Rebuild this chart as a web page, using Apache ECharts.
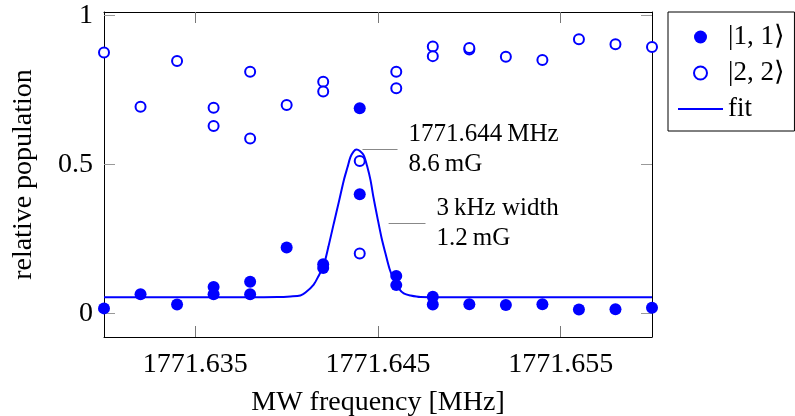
<!DOCTYPE html>
<html>
<head>
<meta charset="utf-8">
<script src="https://cdn.jsdelivr.net/npm/echarts@6/dist/echarts.min.js"></script>
<style>
  html, body { margin: 0; padding: 0; background: #fff; }
  #chart { width: 795px; height: 416px; }
</style>
</head>
<body>
<div id="chart"></div>
<script>
// measured points, |1,1> state (filled)
const freq11 = [1771.630, 1771.632, 1771.634, 1771.636, 1771.636, 1771.638, 1771.638, 1771.640,
  1771.642, 1771.642, 1771.644, 1771.644, 1771.646, 1771.646, 1771.648, 1771.648,
  1771.650, 1771.652, 1771.654, 1771.656, 1771.658, 1771.660];
const pop11 = [0.017, 0.064, 0.030, 0.089, 0.064, 0.106, 0.064, 0.221,
  0.165, 0.152, 0.688, 0.400, 0.126, 0.095, 0.056, 0.030,
  0.031, 0.028, 0.031, 0.013, 0.014, 0.019];

// measured points, |2,2> state (open)
const freq22 = [1771.630, 1771.632, 1771.634, 1771.636, 1771.636, 1771.638, 1771.638, 1771.640,
  1771.642, 1771.642, 1771.644, 1771.644, 1771.646, 1771.646, 1771.648, 1771.648,
  1771.650, 1771.650, 1771.652, 1771.654, 1771.656, 1771.658, 1771.660];
const pop22 = [0.875, 0.693, 0.847, 0.690, 0.629, 0.811, 0.587, 0.699,
  0.777, 0.744, 0.511, 0.201, 0.811, 0.755, 0.895, 0.863,
  0.885, 0.890, 0.861, 0.850, 0.920, 0.903, 0.894];

// fit curve
const fitFreq = [1771.6300, 1771.6380, 1771.6395, 1771.64021, 1771.64075, 1771.64103, 1771.64148,
  1771.64174, 1771.64203, 1771.64229, 1771.64258, 1771.64286, 1771.64313, 1771.64333, 1771.64349,
  1771.64366, 1771.64382, 1771.64401, 1771.64422, 1771.64440, 1771.64459, 1771.64475, 1771.64496,
  1771.64519, 1771.64541, 1771.64563, 1771.64587, 1771.64612, 1771.64641, 1771.64678, 1771.64733,
  1771.6500, 1771.6600];
const fitPop = [0.054, 0.054, 0.055, 0.057, 0.060, 0.070, 0.097,
  0.125, 0.162, 0.225, 0.302, 0.375, 0.447, 0.490, 0.524,
  0.543, 0.550, 0.545, 0.530, 0.495, 0.447, 0.390, 0.324,
  0.255, 0.201, 0.150, 0.112, 0.085, 0.067, 0.060, 0.055,
  0.054, 0.054];

const xTicks = [1771.635, 1771.645, 1771.655];
const yTicks = [0, 0.5, 1];

// annotations: [x start, x end, y, text]
const centerNote = [1771.64415, 1771.64607, 0.550, '1771.644\u2009MHz\n8.6\u2009mG'];
const widthNote = [1771.64558, 1771.64760, 0.302, '3\u2009kHz width\n1.2\u2009mG'];

const FONT = '"Liberation Serif", "DejaVu Serif", serif';
const BLUE = '#0000ff';

const zip = (xs, ys) => xs.map((x, i) => [x, ys[i]]);

const noteLine = (n) => [
  { coord: [n[0], n[2]], label: { formatter: n[3] } },
  { coord: [n[1], n[2]] }
];

const frameX = (extra) => Object.assign({
  type: 'value',
  min: 1771.630,
  max: 1771.660,
  axisLine: { onZero: false, lineStyle: { color: '#000', width: 1 } },
  axisTick: { inside: true, length: 11, customValues: xTicks, lineStyle: { color: '#777' } },
  splitLine: { show: false }
}, extra);

const frameY = (extra) => Object.assign({
  type: 'value',
  min: -0.079,
  max: 1.011,
  axisLine: { show: true, onZero: false, lineStyle: { color: '#000', width: 1 } },
  axisTick: { show: true, inside: true, length: 11, customValues: yTicks, lineStyle: { color: '#999' } },
  splitLine: { show: false }
}, extra);

const chart = echarts.init(document.getElementById('chart'));
chart.setOption({
  animation: false,
  grid: { left: 104, top: 12, width: 548, height: 325, containLabel: false, outerBoundsMode: 'none' },
  legend: {
    orient: 'vertical',
    left: 668,
    top: 12,
    padding: [11, 10, 8, 10],
    itemGap: 8,
    itemWidth: 45,
    itemHeight: 13,
    borderColor: '#000',
    borderWidth: 1,
    textStyle: { fontFamily: FONT, fontSize: 27, lineHeight: 28, color: '#000' },
    data: [
      { name: '|1, 1\u27E9' },
      { name: '|2, 2\u27E9' },
      { name: 'fit', icon: 'path://M0,0 L45,0 L45,2 L0,2 Z', itemStyle: { color: BLUE } }
    ]
  },
  xAxis: [
    frameX({
      position: 'bottom',
      name: 'MW frequency [MHz]',
      nameLocation: 'middle',
      nameGap: 52,
      nameTextStyle: { fontFamily: FONT, fontSize: 28, color: '#000' },
      axisLabel: {
        customValues: xTicks, margin: 14,
        fontFamily: FONT, fontSize: 28, color: '#000',
        formatter: v => v.toFixed(3)
      }
    }),
    frameX({ position: 'top', axisLabel: { show: false } })
  ],
  yAxis: [
    frameY({
      position: 'left',
      name: 'relative population',
      nameLocation: 'middle',
      nameGap: 66,
      nameTextStyle: { fontFamily: FONT, fontSize: 28, color: '#000' },
      axisLabel: {
        customValues: yTicks, margin: 11,
        fontFamily: FONT, fontSize: 28, color: '#000',
        formatter: v => String(v)
      }
    }),
    frameY({ position: 'right', axisLabel: { show: false } })
  ],
  series: [{
    name: '|1, 1\u27E9',
    type: 'scatter',
    symbol: 'circle',
    symbolSize: 12,
    itemStyle: { color: BLUE, opacity: 1 },
    data: zip(freq11, pop11),
    z: 3
  }, {
    name: '|2, 2\u27E9',
    type: 'scatter',
    symbol: 'circle',
    symbolSize: 10,
    itemStyle: { color: '#fff', borderColor: BLUE, borderWidth: 2, opacity: 1 },
    data: zip(freq22, pop22),
    z: 3
  }, {
    name: 'fit',
    type: 'line',
    symbol: 'none',
    smooth: 0.3,
    lineStyle: { color: BLUE, width: 2 },
    itemStyle: { color: BLUE },
    data: zip(fitFreq, fitPop),
    z: 4,
    markLine: {
      silent: true,
      symbol: ['none', 'none'],
      lineStyle: { color: '#888', width: 1, type: 'solid' },
      label: {
        position: 'end',
        distance: 11,
        fontFamily: FONT,
        fontSize: 25,
        lineHeight: 30,
        color: '#000',
        align: 'left'
      },
      data: [noteLine(centerNote), noteLine(widthNote)]
    }
  }]
});
</script>
</body>
</html>
